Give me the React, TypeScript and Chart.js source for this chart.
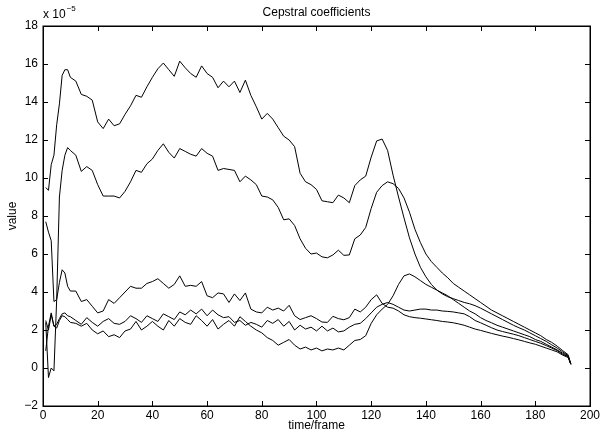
import React, { useEffect, useRef } from "react";
import { Chart, registerables } from "chart.js";

Chart.register(...registerables);

// Frame index of each sample
const frames = [
  1, 2, 3, 4, 5, 6, 7, 8, 9, 10,
  12, 14, 16, 18, 20, 22, 24, 26, 28, 30,
  32, 34, 36, 38, 40, 42, 44, 46, 48, 50,
  52, 54, 56, 58, 60, 62, 64, 66, 68, 70,
  72, 74, 76, 78, 80, 82, 84, 86, 88, 90,
  92, 94, 96, 98, 100, 102, 104, 106, 108, 110,
  112, 114, 116, 118, 120, 122, 124, 126, 128, 130,
  132, 134, 136, 138, 140, 142, 144, 146, 148, 150,
  152, 154, 156, 158, 160, 162, 164, 166, 168, 170,
  172, 174, 176, 178, 180, 182, 184, 186, 188, 190,
  192, 193,
];

// Cepstral coefficient tracks, in units of 1e-5
const coef1 = [
  9.5, 9.35, 10.7, 11.2, 12.8, 13.9, 15.4, 15.7, 15.7, 15.3,
  15.1, 14.4, 14.3, 14.1, 12.95, 12.6, 13.1, 12.75, 12.85, 13.35,
  13.8, 14.35, 14.25, 14.8, 15.3, 15.75, 16.05, 15.7, 15.35, 16.15,
  15.8, 15.5, 15.3, 15.9, 15.5, 15.3, 14.75, 15.1, 14.8, 15.1,
  14.5, 15.15, 14.35, 13.75, 13.1, 13.4, 13.1, 12.65, 12.2, 12.0,
  11.65, 10.25, 9.8, 9.65, 9.4, 8.8, 8.75, 8.7, 9.1, 8.95,
  8.7, 9.6, 9.9, 10.1, 11.1, 11.95, 12.05, 11.45, 10.15, 9.0,
  7.9, 6.85, 6.0, 5.3, 4.8, 4.4, 4.1, 3.9, 3.75, 3.65,
  3.55, 3.45, 3.38, 3.28, 3.15, 3.0, 2.85, 2.7, 2.55, 2.4,
  2.25, 2.12, 2.0, 1.85, 1.7, 1.55, 1.4, 1.22, 1.05, 0.85,
  0.65, 0.2,
];

const coef2 = [
  7.7, 7.15, 6.7, 3.5, 3.6, 9.0, 10.4, 11.2, 11.6, 11.45,
  11.2, 10.35, 10.6, 10.4, 9.65, 9.05, 9.05, 9.05, 8.95, 9.3,
  9.8, 10.4, 10.3, 10.75, 11.0, 11.45, 11.8, 11.35, 11.05, 11.55,
  11.4, 11.25, 11.15, 11.55, 11.3, 11.15, 10.4, 10.5, 10.45, 10.4,
  9.8, 10.1, 9.9, 9.65, 9.05, 9.0, 8.85, 8.45, 7.8, 7.85,
  7.5, 6.8, 6.3, 6.0, 6.05, 5.85, 5.8, 5.95, 6.2, 5.93,
  5.95, 6.8, 7.0, 7.4, 8.4, 9.25, 9.6, 9.8, 9.7, 9.45,
  8.95, 8.2, 7.3, 6.6, 6.0, 5.6, 5.3, 5.0, 4.75, 4.45,
  4.25, 4.05, 3.85, 3.65, 3.45, 3.25, 3.05, 2.9, 2.75, 2.6,
  2.45, 2.3, 2.15, 2.0, 1.85, 1.7, 1.5, 1.35, 1.15, 0.92,
  0.7, 0.2,
];

const coef3 = [
  2.4, -0.5, 0.0, -0.15, 3.6, 4.5, 5.17, 5.0, 4.3, 4.05,
  4.05, 3.5, 3.6, 3.25, 2.9, 3.0, 3.6, 3.4, 3.7, 4.0,
  4.3, 4.2, 4.2, 4.45, 4.55, 4.7, 4.45, 4.2, 4.4, 4.85,
  4.3, 4.35, 4.3, 4.55, 3.8, 3.7, 3.95, 3.9, 3.45, 3.9,
  3.55, 3.95, 3.1, 2.95, 2.9, 3.2, 3.05, 3.15, 3.0, 3.3,
  2.75, 2.55, 2.65, 2.75, 2.6, 2.42, 2.4, 2.72, 2.6, 2.54,
  2.65, 3.1, 2.95, 3.2, 3.6, 3.85, 3.4, 3.2, 3.15, 3.0,
  2.8, 2.7, 2.65, 2.62, 2.58, 2.54, 2.5, 2.45, 2.42, 2.38,
  2.32, 2.25, 2.15, 2.05, 1.98, 1.9, 1.82, 1.75, 1.68, 1.62,
  1.55, 1.48, 1.4, 1.32, 1.25, 1.15, 1.05, 0.95, 0.85, 0.68,
  0.55, 0.2,
];

const coef4 = [
  0.9, 2.2, 2.9, 2.2, 2.3, 2.6, 2.85, 2.9, 2.75, 2.7,
  2.5, 2.3, 2.65, 2.4, 2.2, 2.45, 2.6, 2.35, 2.3, 2.45,
  2.75, 2.6, 2.4, 2.75, 2.6, 2.45, 2.85, 2.7, 2.55, 2.95,
  2.8, 3.05, 2.85, 3.1, 2.75, 3.05, 2.8, 2.65, 2.7, 2.4,
  2.5, 2.25, 2.4, 2.3, 2.15, 2.5, 2.35, 2.55, 2.2, 2.45,
  2.0, 2.25, 2.05, 2.15, 1.95, 2.2, 1.95, 2.1, 1.9, 1.95,
  2.15, 2.3, 2.35, 2.6, 2.9, 3.2, 3.35, 3.45, 3.35, 3.2,
  3.05, 3.0, 3.05, 3.1, 3.1, 3.05, 3.05, 3.0, 2.98, 2.95,
  2.9, 2.85, 2.7, 2.5, 2.38, 2.25, 2.12, 2.0, 1.92, 1.85,
  1.78, 1.7, 1.6, 1.5, 1.4, 1.3, 1.18, 1.05, 0.92, 0.72,
  0.6, 0.2,
];

const coef5 = [
  2.5, 2.0, 2.8, 2.2, 2.1, 2.5, 2.75, 2.7, 2.55, 2.4,
  2.35, 2.2, 2.35, 2.0, 1.8, 1.95, 1.65, 1.75, 1.6, 1.95,
  2.05, 2.45, 2.0, 2.2, 2.45, 2.2, 2.0, 2.5, 2.2, 2.6,
  2.4, 2.3, 2.75, 2.5, 2.2, 2.55, 2.05, 2.3, 2.5, 2.2,
  2.7, 2.45, 2.2, 2.0, 1.85, 1.6, 1.45, 1.2, 1.35, 1.5,
  1.2, 1.0, 1.1, 0.95, 1.05, 0.9, 1.0, 0.95, 1.05, 0.95,
  1.2, 1.45, 1.5, 1.7, 2.35, 2.8, 3.1, 3.35, 3.8, 4.4,
  4.85, 4.95, 4.8, 4.6, 4.4, 4.25, 4.1, 3.95, 3.8, 3.6,
  3.4, 3.2, 3.0, 2.85, 2.65, 2.5, 2.38, 2.25, 2.15, 2.05,
  1.95, 1.85, 1.75, 1.65, 1.5, 1.4, 1.25, 1.1, 0.95, 0.78,
  0.62, 0.2,
];

const seriesList = [coef1, coef2, coef3, coef4, coef5];

const xTicks = [0, 20, 40, 60, 80, 100, 120, 140, 160, 180, 200];
const yTicks = [-2, 0, 2, 4, 6, 8, 10, 12, 14, 16, 18];

const FONT = '"Liberation Sans", Arial, Helvetica, sans-serif';

// Boxed axes with inward tick marks on all four sides, plus the exponent note
const boxedAxes = {
  id: "boxedAxes",
  afterDraw(chart: any) {
    const { ctx, chartArea, scales } = chart;
    const { left, right, top, bottom } = chartArea;
    const xs = scales.x;
    const ys = scales.y;
    const tl = 5;
    ctx.save();
    ctx.strokeStyle = "#000";
    ctx.lineWidth = 1;
    ctx.beginPath();
    for (const v of xTicks) {
      const px = Math.round(xs.getPixelForValue(v)) + 0.5;
      ctx.moveTo(px, bottom);
      ctx.lineTo(px, bottom - tl);
      ctx.moveTo(px, top);
      ctx.lineTo(px, top + tl);
    }
    for (const v of yTicks) {
      const py = Math.round(ys.getPixelForValue(v)) + 0.5;
      ctx.moveTo(left, py);
      ctx.lineTo(left + tl, py);
      ctx.moveTo(right, py);
      ctx.lineTo(right - tl, py);
    }
    ctx.stroke();
    ctx.lineWidth = 1.5;
    ctx.strokeRect(
      Math.round(left) + 0.25,
      Math.round(top) + 0.25,
      Math.round(right) - Math.round(left),
      Math.round(bottom) - Math.round(top)
    );

    ctx.fillStyle = "#000";
    ctx.textBaseline = "alphabetic";
    ctx.textAlign = "left";
    ctx.font = `12px ${FONT}`;
    const base = "x 10";
    ctx.fillText(base, left, top - 8);
    const w = ctx.measureText(base).width;
    ctx.font = `8px ${FONT}`;
    ctx.fillText("\u22125", left + w + 1, top - 15);
    ctx.restore();
  },
};

export default function App() {
  const canvasRef = useRef<HTMLCanvasElement | null>(null);

  useEffect(() => {
    const canvas = canvasRef.current;
    if (!canvas) return;

    const datasets = seriesList.map((vals, i) => ({
      label: `c${i + 1}`,
      data: frames.map((f, j) => ({ x: f, y: vals[j] })),
      borderColor: "#000",
      borderWidth: 1,
      pointRadius: 0,
      fill: false,
      tension: 0,
    }));

    const chart = new Chart(canvas, {
      type: "line",
      data: { datasets },
      options: {
        animation: false,
        responsive: false,
        devicePixelRatio: 1,
        layout: { padding: { left: 0, right: 10, top: 0, bottom: 0 } },
        plugins: {
          legend: { display: false },
          tooltip: { enabled: false },
          title: {
            display: true,
            text: "Cepstral coefficients",
            fullSize: false,
            color: "#000",
            font: { family: FONT, size: 12, weight: "normal" },
            padding: { top: 5, bottom: 6.6 },
          },
        },
        scales: {
          x: {
            type: "linear",
            min: 0,
            max: 200,
            afterFit: (s: any) => {
              s.height = 28;
            },
            afterBuildTicks: (s: any) => {
              s.ticks = xTicks.map((v) => ({ value: v }));
            },
            grid: { display: false, drawTicks: false },
            border: { display: false },
            ticks: {
              color: "#000",
              font: { family: FONT, size: 12 },
              padding: 2,
              maxRotation: 0,
              autoSkip: false,
            },
            title: {
              display: true,
              text: "time/frame",
              color: "#000",
              font: { family: FONT, size: 12 },
              padding: { top: 0, bottom: 1 },
            },
          },
          y: {
            type: "linear",
            min: -2,
            max: 18,
            afterFit: (s: any) => {
              s.width = 43;
            },
            afterBuildTicks: (s: any) => {
              s.ticks = yTicks.map((v) => ({ value: v }));
            },
            grid: { display: false, drawTicks: false },
            border: { display: false },
            ticks: {
              color: "#000",
              font: { family: FONT, size: 12 },
              padding: 5,
              autoSkip: false,
              callback: (v: any) => (Number(v) < 0 ? "\u2212" + Math.abs(Number(v)) : String(v)),
            },
            title: {
              display: true,
              text: "value",
              color: "#000",
              font: { family: FONT, size: 12 },
              padding: { top: 5, bottom: 0 },
            },
          },
        },
      },
      plugins: [boxedAxes],
    });

    return () => chart.destroy();
  }, []);

  return (
    <div style={{ position: "absolute", left: 0, top: 0, width: 602, height: 434, background: "#fff" }}>
      <canvas ref={canvasRef} width={602} height={434} />
    </div>
  );
}
